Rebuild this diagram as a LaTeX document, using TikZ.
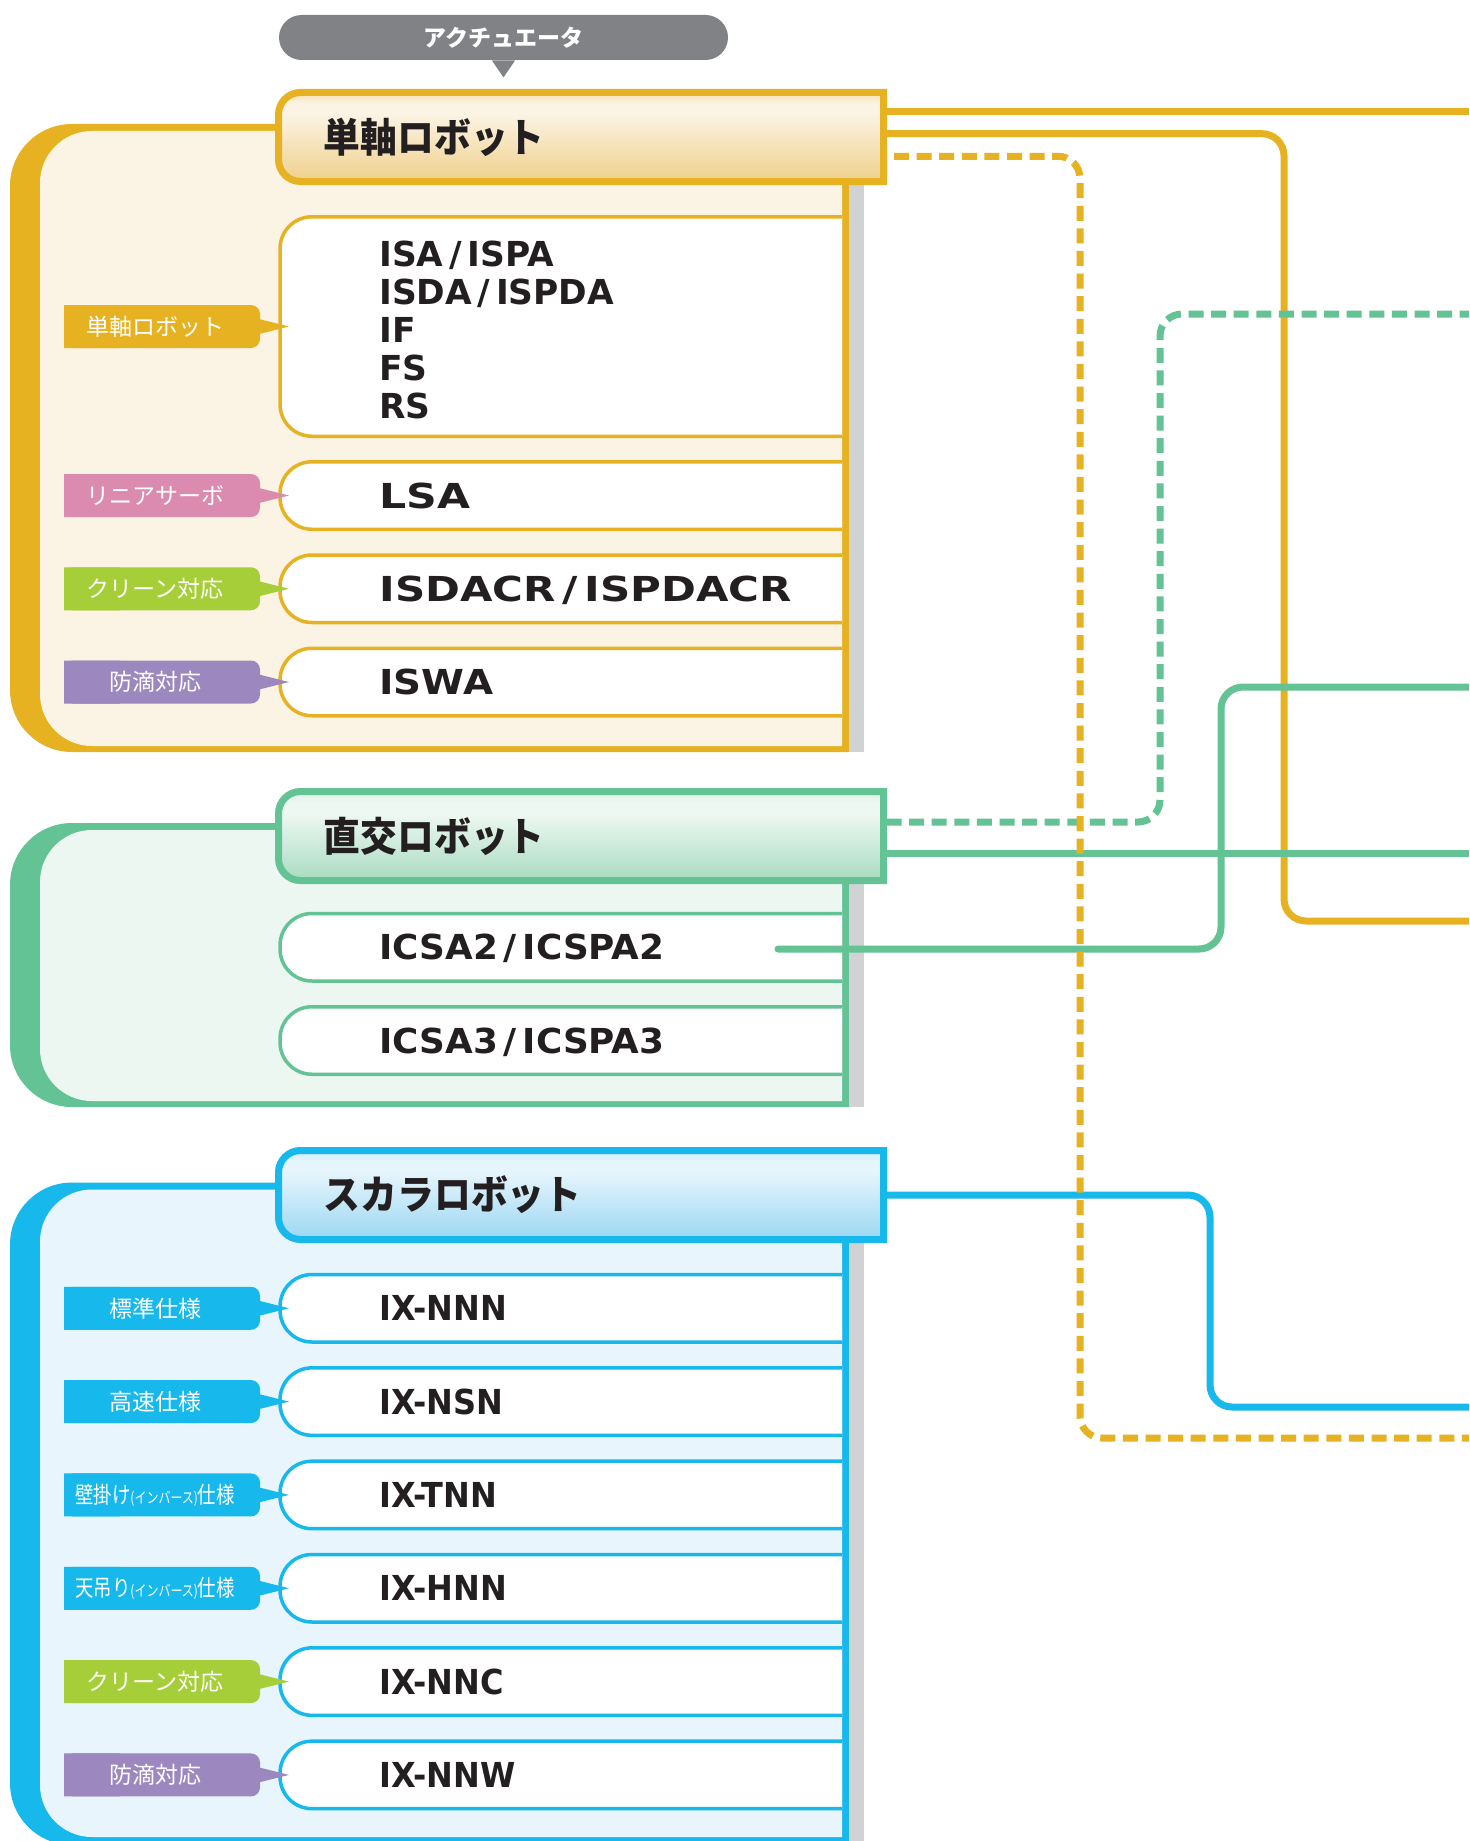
\documentclass[tikz,border=0pt]{standalone}
\usepackage{fontspec}
\usepackage{graphicx}
\usepackage{tikz}
\usetikzlibrary{positioning}
\newfontfamily\jpfont{Noto Sans CJK JP}
\newfontfamily\jptitle{Noto Sans CJK JP}[FakeStretch=0.92]
\newfontfamily\modelfont{DejaVu Sans}

\definecolor{robogold}{RGB}{230,178,34}
\definecolor{goldpale}{RGB}{251,244,228}
\definecolor{goldtop}{RGB}{245,224,174}
\definecolor{goldhi}{RGB}{251,243,227}
\definecolor{goldlo}{RGB}{239,208,139}
\definecolor{robogreen}{RGB}{100,195,149}
\definecolor{greenpale}{RGB}{236,247,241}
\definecolor{greentop}{RGB}{221,240,229}
\definecolor{greenhi}{RGB}{238,248,242}
\definecolor{greenlo}{RGB}{168,219,194}
\definecolor{robocyan}{RGB}{23,184,235}
\definecolor{cyanpale}{RGB}{232,245,252}
\definecolor{cyantop}{RGB}{201,234,249}
\definecolor{cyanhi}{RGB}{230,245,252}
\definecolor{cyanlo}{RGB}{155,215,243}
\definecolor{stripgray}{RGB}{209,210,212}
\definecolor{pillgray}{RGB}{128,130,133}
\definecolor{tagpink}{RGB}{219,139,176}
\definecolor{taglime}{RGB}{166,206,57}
\definecolor{tagviolet}{RGB}{156,135,191}
\definecolor{inkblack}{RGB}{35,31,32}

% header fills: darker at the bottom, a light band near the top
\pgfdeclareverticalshading{headgold}{100bp}{color(0bp)=(goldlo); color(25bp)=(goldlo);
  color(63bp)=(goldhi); color(69bp)=(goldhi); color(75bp)=(goldtop); color(100bp)=(goldtop)}
\pgfdeclareverticalshading{headgreen}{100bp}{color(0bp)=(greenlo); color(25bp)=(greenlo);
  color(63bp)=(greenhi); color(69bp)=(greenhi); color(75bp)=(greentop); color(100bp)=(greentop)}
\pgfdeclareverticalshading{headcyan}{100bp}{color(0bp)=(cyanlo); color(25bp)=(cyanlo);
  color(63bp)=(cyanhi); color(69bp)=(cyanhi); color(75bp)=(cyantop); color(100bp)=(cyantop)}

\begin{document}
\begin{tikzpicture}[x=0.5pt,y=-0.5pt,
    frame/.style={line width=3.5pt},
    headbox/.style={rectangle,minimum width=302.5pt,minimum height=44.5pt,inner sep=0pt,outer sep=0pt},
    headtitle/.style={inner sep=0pt,text=inkblack,font=\jptitle\bfseries\fontsize{20}{22}\selectfont},
    itembox/.style={line width=1.75pt,fill=white,rounded corners=16pt},
    model/.style={anchor=base west,inner sep=0pt,text=inkblack,font=\modelfont\bfseries\fontsize{17.2}{19}\selectfont},
    tagtext/.style={inner sep=0pt,text=white,font=\jpfont\fontsize{11.5}{13}\selectfont},
    pill/.style={fill=pillgray,rounded corners=11.25pt,minimum width=224.5pt,minimum height=22.5pt,
      inner sep=0pt,text=white,font=\jpfont\bfseries\fontsize{11.5}{13}\selectfont},
    link/.style={line width=3.5pt,rounded corners=11pt},
    dashlink/.style={link,dash pattern=on 7.5pt off 3.8pt}]
  \useasboundingbox (0,0) rectangle (1469,1841);
  \fill[white] (0,0) rectangle (1469,1841);
  \clip (0,0) rectangle (1469,1841);

  % actuator bubble
  \node[pill] (actu) at (503.5,37.5) {アクチュエータ};
  \fill[pillgray] ([xshift=-5.8pt]actu.south) -- ([yshift=-8.5pt]actu.south)
    -- ([xshift=5.8pt]actu.south) -- cycle;

  % single axis panel
  \fill[robogold] (849,124) -- (72,124) arc[start angle=90,end angle=180,radius=31pt]
    -- (10,690) arc[start angle=180,end angle=270,radius=31pt] -- (849,752) -- cycle;
  \fill[goldpale] (842,131) -- (92,131) arc[start angle=90,end angle=180,radius=26pt]
    -- (40,694) arc[start angle=180,end angle=270,radius=26pt] -- (842,746) -- cycle;
  \fill[stripgray] (849,185) rectangle (864,752);
  \foreach \t/\b in {216.75/436.25,461.75/529.25,555/622.5,648.25/715.75}
    \draw[itembox,draw=robogold] (842,\t) -- (280,\t) -- (280,\b) -- (842,\b);
  \node[model,align=left,anchor=north west] (isa) at (379,240.5)
    {ISA\,/\,ISPA\\ISDA\,/\,ISPDA\\IF\\FS\\RS};
  \node[model] (lsa) at (379,508) {\scalebox{1.24}[1]{LSA}};
  \node[model] (isdacr) at (379,601.25) {\scalebox{1.22}[1]{ISDACR\,/\,ISPDACR}};
  \node[model] (iswa) at (379,694.5) {\scalebox{1.13}[1]{ISWA}};
  \foreach \y/\c/\t [count=\i] in {326.5/robogold/{単軸ロボット},495.5/tagpink/{リニアサーボ},
      588.75/taglime/{クリーン対応},682/tagviolet/{防滴対応}} {
    \fill[\c,rounded corners=4.5pt] (64,\y-21.5) rectangle (260,\y+21.5);
    \fill[\c] (64,\y-21.5) rectangle (120,\y+21.5) (255,\y-8.5) -- (289,\y) -- (255,\y+8.5) -- cycle;
    \node[tagtext] (spec\i) at (155,\y) {\t};
  }

  % cartesian panel
  \fill[robogreen] (849,823) -- (72,823) arc[start angle=90,end angle=180,radius=31pt]
    -- (10,1045) arc[start angle=180,end angle=270,radius=31pt] -- (849,1107) -- cycle;
  \fill[greenpale] (842,830) -- (92,830) arc[start angle=90,end angle=180,radius=26pt]
    -- (40,1049) arc[start angle=180,end angle=270,radius=26pt] -- (842,1101) -- cycle;
  \fill[stripgray] (849,884) rectangle (864,1107);
  \foreach \t/\b in {913.5/981,1006.75/1074.25}
    \draw[itembox,draw=robogreen] (842,\t) -- (280,\t) -- (280,\b) -- (842,\b);
  \node[model] (icsa2) at (379,959.75) {\scalebox{1.04}[1]{ICSA2\,/\,ICSPA2}};
  \node[model] (icsa3) at (379,1053) {\scalebox{1.04}[1]{ICSA3\,/\,ICSPA3}};

  % scara panel
  \fill[robocyan] (849,1182.5) -- (72,1182.5) arc[start angle=90,end angle=180,radius=31pt]
    -- (10,1783) arc[start angle=180,end angle=270,radius=31pt] -- (849,1845) -- cycle;
  \fill[cyanpale] (842,1189.5) -- (92,1189.5) arc[start angle=90,end angle=180,radius=26pt]
    -- (40,1785) arc[start angle=180,end angle=270,radius=26pt] -- (842,1837) -- cycle;
  \fill[stripgray] (849,1243) rectangle (864,1841);
  \foreach \m/\c/\t [count=\k from 0] in {IX-NNN/robocyan/{標準仕様},IX-NSN/robocyan/{高速仕様},
      IX-TNN/robocyan/{\scalebox{0.8}[1]{壁掛け{\fontsize{7.5}{9}\selectfont(インバース)}仕様}},
      IX-HNN/robocyan/{\scalebox{0.8}[1]{天吊り{\fontsize{7.5}{9}\selectfont(インバース)}仕様}},
      IX-NNC/taglime/{クリーン対応},IX-NNW/tagviolet/{防滴対応}} {
    \pgfmathsetmacro\y{1308.25+93.33*\k}
    \draw[itembox,draw=robocyan] (842,\y-33.75) -- (280,\y-33.75) -- (280,\y+33.75) -- (842,\y+33.75);
    \node[model] (ix\k) at (379,\y+12.5) {\scalebox{0.93}[1]{\m}};
    \fill[\c,rounded corners=4.5pt] (64,\y-21.5) rectangle (260,\y+21.5);
    \fill[\c] (64,\y-21.5) rectangle (120,\y+21.5) (255,\y-8.5) -- (289,\y) -- (255,\y+8.5) -- cycle;
    \node[tagtext] (type\k) at (155,\y) {\t};
  }

  % headers
  \node[headbox] (single) at (581,137) {};
  \node[headbox] (linear) at (581,836) {};
  \node[headbox] (scara) at (581,1195) {};
  \foreach \h/\c in {single/gold,linear/green,scara/cyan}
    \shadedraw[shading=head\c,draw=robo\c,frame] (\h.north east)
      -- ([xshift=11pt]\h.north west) arc[start angle=90,end angle=180,radius=11pt]
      -- ([yshift=11pt]\h.south west) arc[start angle=180,end angle=270,radius=11pt]
      -- (\h.south east) -- cycle;
  \node[headtitle,right=22.5pt of single.west] (singletitle) {単軸ロボット};
  \node[headtitle,right=22.5pt of linear.west] (lineartitle) {直交ロボット};
  \node[headtitle,right=22.5pt of scara.west] (scaratitle) {スカラロボット};

  % lines leaving on the right
  \coordinate (goldA) at (1469,111.3);
  \coordinate (goldB) at (1469,921);
  \coordinate (goldC) at (1469,1438);
  \coordinate (greenD) at (1469,314);
  \coordinate (greenE) at (1469,853);
  \coordinate (greenF) at (1469,687);
  \coordinate (cyanG) at (1469,1407);
  \coordinate (icsadot) at (778,949);

  \draw[link,robogold] ([yshift=12.85pt]single.east) -- (goldA);
  \draw[link,robogold] ([yshift=1.65pt]single.east) -| (1284,921) -- (goldB);
  \draw[dashlink,robogreen] ([xshift=1.5pt,yshift=7pt]linear.east) -| (1160,314) -- (greenD);
  \draw[link,robogreen] ([yshift=-8.5pt]linear.east) -- (greenE);
  \draw[link,robogreen,line cap=round] (icsadot) -| (1221,687) -- (greenF);
  \draw[link,robocyan] (scara.east) -| (1210,1407) -- (cyanG);
  \draw[dashlink,robogold] ([xshift=5.25pt,yshift=-9.65pt]single.east) -| (1080,1438) -- (goldC);
\end{tikzpicture}
\end{document}
